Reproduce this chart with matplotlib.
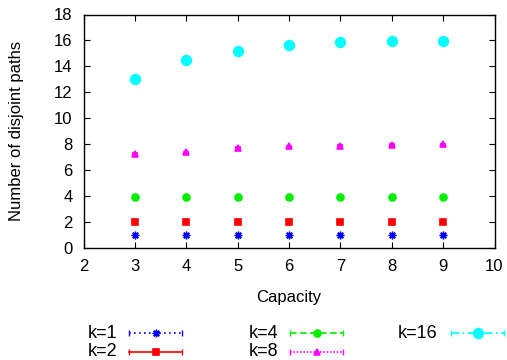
import matplotlib
matplotlib.use("Agg")
import matplotlib.pyplot as plt
from matplotlib.lines import Line2D

plt.rcParams['font.family'] = ['Liberation Sans', 'DejaVu Sans']

capacity = [3, 4, 5, 6, 7, 8, 9]
k1 = [1, 1, 1, 1, 1, 1, 1]
k2 = [2, 2, 2, 2, 2, 2, 2]
k4 = [3.95, 3.95, 3.95, 3.95, 3.92, 3.93, 3.95]
k8 = [7.25, 7.38, 7.74, 7.85, 7.87, 7.97, 8.0]
k8_err = [0.05, 0.05, 0.05, 0.05, 0.05, 0.05, 0.05]
k16 = [13.06, 14.5, 15.22, 15.66, 15.9, 15.97, 15.92]

labels = ["k=1", "k=2", "k=4", "k=8", "k=16"]
series = [k1, k2, k4, k8, k16]
errs = [None, None, None, k8_err, None]
colors = ["#0000ff", "#ff0000", "#00ee00", "#ff00ff", "#00ffff"]
markers = [(8, 2, 0), "s", "o", "^", "o"]
msizes = [5.5, 5, 5, 4, 7]
mews = [1.0, 1.2, 1.2, 1.2, 1.2]
lstyles = [(0, (1, 2)), "-", (0, (4, 2)), (0, (1, 1)), (0, (5, 2, 1, 2))]

fig = plt.figure(figsize=(5.07, 3.6), dpi=100)
ax = fig.add_axes([83.5 / 507, 1 - 248 / 360, 411 / 507, 233.5 / 360])

for y, e, c, m, ms, mew in zip(series, errs, colors, markers, msizes, mews):
    ax.errorbar(capacity, y, yerr=e, linestyle="none",
                marker=m, markersize=ms, color=c, ecolor=c, capsize=2.5, elinewidth=1,
                markeredgewidth=mew)

ax.set_xlim(2, 10)
ax.set_ylim(0, 18)
ax.set_xticks(range(2, 11))
ax.set_yticks(range(0, 19, 2))
ax.tick_params(direction="in", length=4, top=True, right=True, labelsize=12, pad=8)
for s in ax.spines.values():
    s.set_linewidth(1)
ax.set_xlabel("Capacity", fontsize=12)
ax.set_ylabel("Number of disjoint paths", fontsize=12)
ax.xaxis.set_label_coords(0.5, -0.178)
ax.yaxis.set_label_coords(-0.145, 0.5)

# legend below the plot, gnuplot style
text_x = [88, 88, 249, 249, 398]
text_y = [333, 352, 333, 352, 333]
line_x0 = [129, 129, 290, 290, 451]
for lab, tx, ty, lx, c, m, ms, mew, ls in zip(labels, text_x, text_y, line_x0, colors, markers, msizes,
                                               mews, lstyles):
    yf = 1 - ty / 360
    fig.text(tx / 507, yf, lab, fontsize=13, va="center", ha="left")
    x0, x1 = lx / 507, (lx + 53) / 507
    fig.add_artist(Line2D([x0, x1], [yf, yf], color=c, linestyle=ls, lw=1.2, transform=fig.transFigure))
    fig.add_artist(Line2D([x0, x1], [yf, yf], color=c, linestyle="none", marker="|", markersize=5,
                          transform=fig.transFigure))
    fig.add_artist(Line2D([(x0 + x1) / 2], [yf], color=c, marker=m, markersize=ms, markeredgewidth=mew,
                          linestyle="none", transform=fig.transFigure))

fig.savefig("out.png", dpi=100)
